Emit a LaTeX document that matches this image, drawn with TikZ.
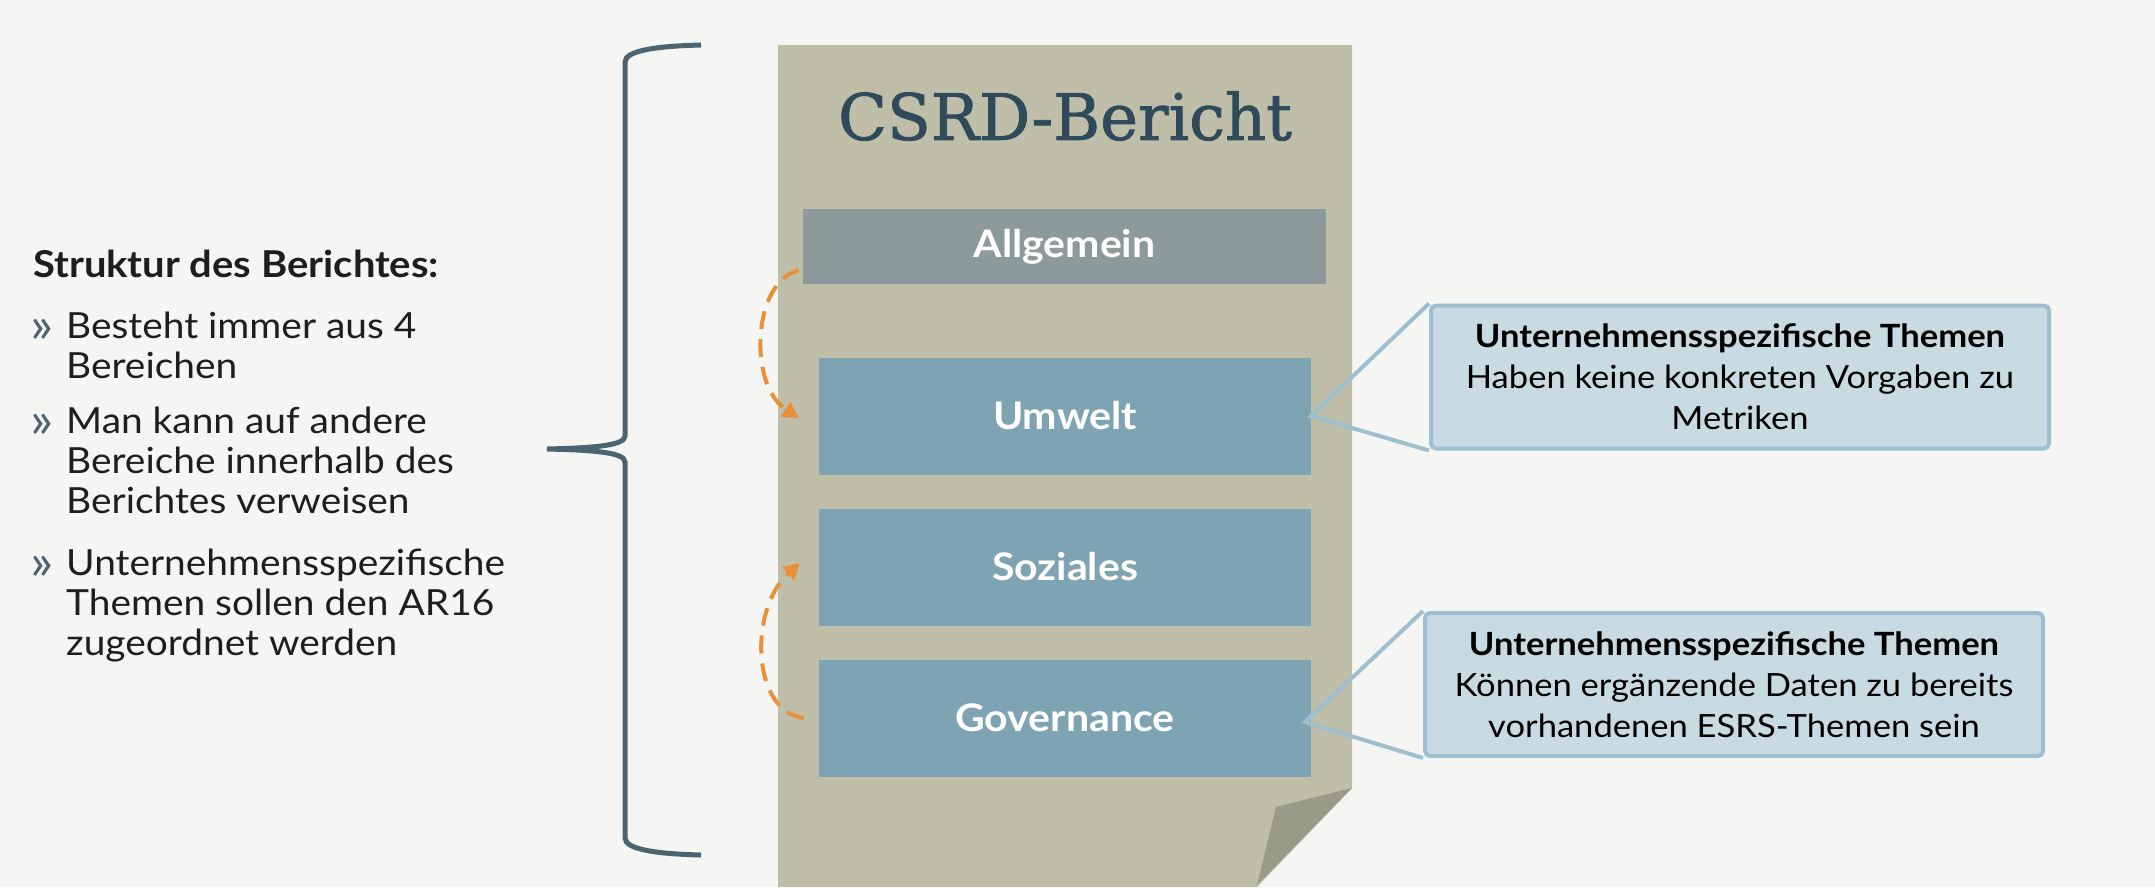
\documentclass[tikz,border=0pt]{standalone}
\usepackage{fontspec}
\usepackage{tikz}
\usetikzlibrary{arrows.meta,positioning}

\newfontfamily\latofont[FakeStretch=1.08]{Lato}
\newfontfamily\titelfont[FakeBold=1.3]{DejaVu Serif}

\definecolor{hintergrund}{HTML}{F5F5F3}
\definecolor{papier}{HTML}{BFBEA8}
\definecolor{knick}{HTML}{999A87}
\definecolor{grau}{HTML}{8C9A9B}
\definecolor{blau}{HTML}{7EA4B3}
\definecolor{hellblau}{HTML}{C9DBE2}
\definecolor{rahmen}{HTML}{9DBFD0}
\definecolor{klammer}{HTML}{4C6372}
\definecolor{orange}{HTML}{E8913A}
\definecolor{titelfarbe}{HTML}{2F4A5A}
\definecolor{schrift}{HTML}{1E1E1E}

\tikzset{
    bereich/.style={fill=blau, text=white, inner sep=0pt,
        minimum width=492pt, minimum height=117pt,
        font=\latofont\bfseries\fontsize{38}{40}\selectfont},
    hinweis/.style={fill=hellblau, draw=rahmen, line width=4pt,
        rounded corners=5pt, inner sep=0pt, align=center, text=black,
        minimum width=618pt, minimum height=143pt,
        font=\latofont\fontsize{32}{41}\selectfont},
    zeiger/.style={draw=rahmen, line width=4pt},
    verweis/.style={draw=orange, line width=4pt,
        dash pattern=on 18pt off 10pt, -{Triangle[length=16pt,width=17pt]}},
    liste/.style={anchor=north west, inner sep=0pt, align=left, text=schrift,
        font=\latofont\fontsize{36}{40}\selectfont}
}

\newcommand{\punkt}{\llap{\textcolor{klammer}{\fontsize{50}{50}\selectfont\raisebox{-4pt}{»}}\hspace{13pt}}}

\begin{document}
\begin{tikzpicture}[x=1pt, y=-1pt]
    \fill[hintergrund] (0,0) rectangle (2155,887);
    \useasboundingbox (0,0) rectangle (2155,887);

    % Klammer
    \draw[klammer, line width=5pt]
        (701,45) .. controls (660,46) and (625,50) .. (625,62)
        -- (625,436) .. controls (625,446) and (590,448) .. (547,449)
        .. controls (590,450) and (625,452) .. (625,462)
        -- (625,838) .. controls (625,850) and (660,854) .. (701,855);

    % Text links
    \node[liste, font=\latofont\bfseries\fontsize{37}{40}\selectfont]
        (kopf) at (33,250) {Struktur des Berichtes:};
    \node[liste] (p1) at (66,312) {\punkt Besteht immer aus 4\\Bereichen};
    \node[liste] (p2) at (66,407) {\punkt Man kann auf andere\\Bereiche innerhalb des\\Berichtes verweisen};
    \node[liste] (p3) at (66,549) {\punkt Unternehmensspezifische\\Themen sollen den AR16\\zugeordnet werden};

    % Bericht
    \fill[papier] (778,45) -- (1352,45) -- (1352,788) -- (1257,887)
        -- (778,887) -- cycle;
    \fill[knick] (1352,788) -- (1276,807) -- (1257,885) -- cycle;
    \node[text=titelfarbe, font=\titelfont\fontsize{64}{64}\selectfont]
        (titel) at (1065,116) {CSRD-Bericht};

    \node[bereich, fill=grau, minimum width=523pt, minimum height=75pt]
        (allg) at (1064.5,246.5) {Allgemein};
    \foreach \n/\t/\y in {umw/Umwelt/416, soz/Soziales/567, gov/Governance/718}{
        \node[bereich] (\n) at (1065,\y) {\t};
    }

    % Hinweise
    \node[hinweis] (h1) at (1740,377)
        {\textbf{Unternehmensspezifische Themen}\\Haben keine konkreten Vorgaben zu\\Metriken};
    \node[hinweis] (h2) at (1734,684.5)
        {\textbf{Unternehmensspezifische Themen}\\Können ergänzende Daten zu bereits\\vorhandenen ESRS-Themen sein};
    \draw[zeiger] (h1.north west) -- (umw.east) -- (h1.south west);
    \draw[zeiger] (h2.north west) -- ([xshift=-6pt,yshift=-4pt]gov.east) -- (h2.south west);

    % Verweise
    \draw[verweis] ([xshift=-4pt,yshift=14pt]allg.south west)
        .. controls (752,282) and (748,385) .. ([xshift=-20pt,yshift=-2pt]umw.west);
    \draw[verweis] ([xshift=-15pt]gov.west)
        .. controls (752,712) and (748,610) .. ([xshift=-19pt,yshift=4pt]soz.west);
\end{tikzpicture}
\end{document}
